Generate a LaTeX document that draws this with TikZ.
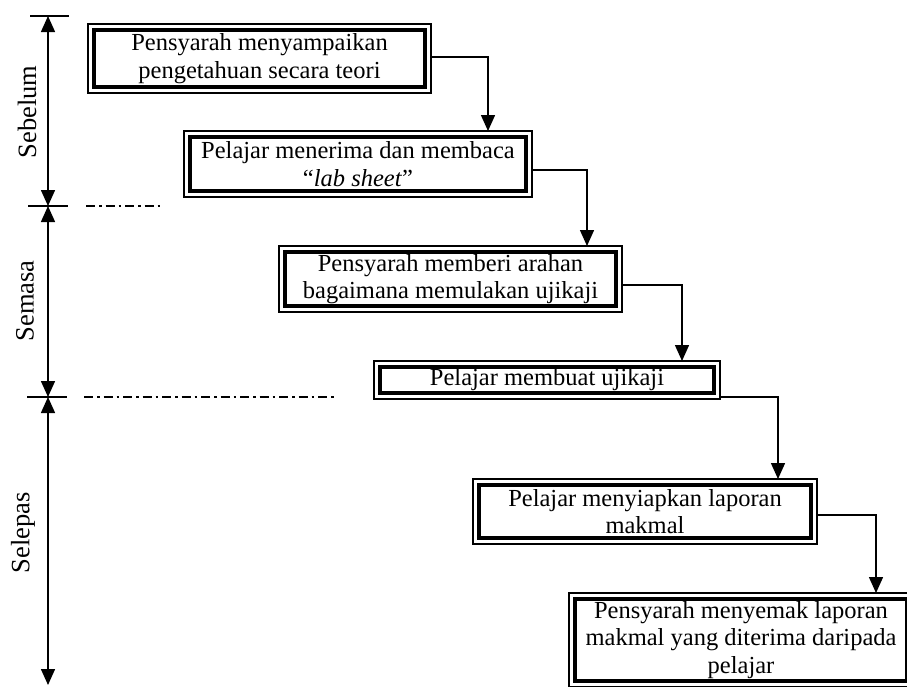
\documentclass[tikz,border=0pt]{standalone}
\usepackage{fontspec}
\setmainfont{Liberation Serif}
\usetikzlibrary{arrows.meta}
\begin{document}
\begin{tikzpicture}[x=1pt,y=-1pt,
  box/.style={draw, line width=1.6pt, align=center, inner sep=0pt, outer sep=0pt,
    font=\fontsize{24.5}{27.5}\selectfont},
  frame/.style={line width=4.6pt},
  flow/.style={line width=1.5pt, -{Triangle[length=16pt,width=14pt]}},
  span/.style={line width=1.5pt, {Triangle[length=16pt,width=14pt]}-{Triangle[length=16pt,width=14pt]}},
  tick/.style={line width=1.5pt},
  sep/.style={line width=1.5pt, dash pattern=on 9pt off 4pt on 2.5pt off 4pt},
  phase/.style={rotate=90, inner sep=0pt, font=\fontsize{26.5}{30}\selectfont}]
\useasboundingbox (0,0) rectangle (907,686);
\begin{scope}
\clip (0,0) rectangle (907,686);
% boxes
\node[box, minimum width=343pt, minimum height=69pt] (b1) at (259.5,58.5)
  {Pensyarah menyampaikan\\pengetahuan secara teori};
\node[box, minimum width=348pt, minimum height=66pt] (b2) at (358,164)
  {Pelajar menerima dan membaca\\``\textit{lab sheet}''};
\node[box, minimum width=343pt, minimum height=66pt] (b3) at (450.5,279)
  {Pensyarah memberi arahan\\bagaimana memulakan ujikaji};
\node[box, minimum width=346pt, minimum height=38pt] (b4) at (547,380)
  {Pelajar membuat ujikaji};
\node[box, minimum width=344pt, minimum height=65pt] (b5) at (645,511.5)
  {Pelajar menyiapkan laporan\\makmal};
\node[box, minimum width=344pt, minimum height=94pt] (b6) at (741,640)
  {\raisebox{-4pt}{\begin{tabular}{@{}c@{}}Pensyarah menyemak laporan\\makmal yang diterima daripada\\pelajar\end{tabular}}};
\foreach \n in {b1,b2,b3,b4,b5,b6}
  \draw[frame] ([shift={(6pt,-6pt)}]\n.north west) rectangle ([shift={(-6pt,6pt)}]\n.south east);
% connectors
\draw[flow] ([yshift=1.5pt]b1.east) -| ([xshift=130pt]b2.north);
\draw[flow] ([yshift=-6pt]b2.east) -| ([xshift=136.5pt]b3.north);
\draw[flow] ([yshift=-6pt]b3.east) -| ([xshift=135pt]b4.north);
\draw[flow] ([yshift=-17pt]b4.east) -| ([xshift=133pt]b5.north);
\draw[flow] ([yshift=-3.5pt]b5.east) -| ([xshift=135pt]b6.north);
% timeline
\coordinate (t0) at (48,16);
\coordinate (t1) at (48,206);
\coordinate (t2) at (48,397);
\coordinate (t3) at (48,685);
\draw[span] (t0) -- (t1);
\draw[span] (t1) -- (t2);
\draw[span] (t2) -- (t3);
\draw[tick] ([xshift=-18pt]t0) -- ([xshift=21pt]t0);
\draw[tick] ([xshift=-20pt]t1) -- ([xshift=20pt]t1);
\draw[tick] ([xshift=-21pt]t2) -- ([xshift=19pt]t2);
\coordinate (s1a) at (86,206);
\coordinate (s1b) at (160,206);
\coordinate (s2a) at (84,397);
\coordinate (s2b) at (336,397);
\draw[sep] (s1a) -- (s1b);
\draw[sep] (s2a) -- (s2b);
\node[phase] (p1) at (27,112) {Sebelum};
\node[phase] (p2) at (25,301) {Semasa};
\node[phase] (p3) at (23,533) {Selepas};
\end{scope}
\end{tikzpicture}
\end{document}
